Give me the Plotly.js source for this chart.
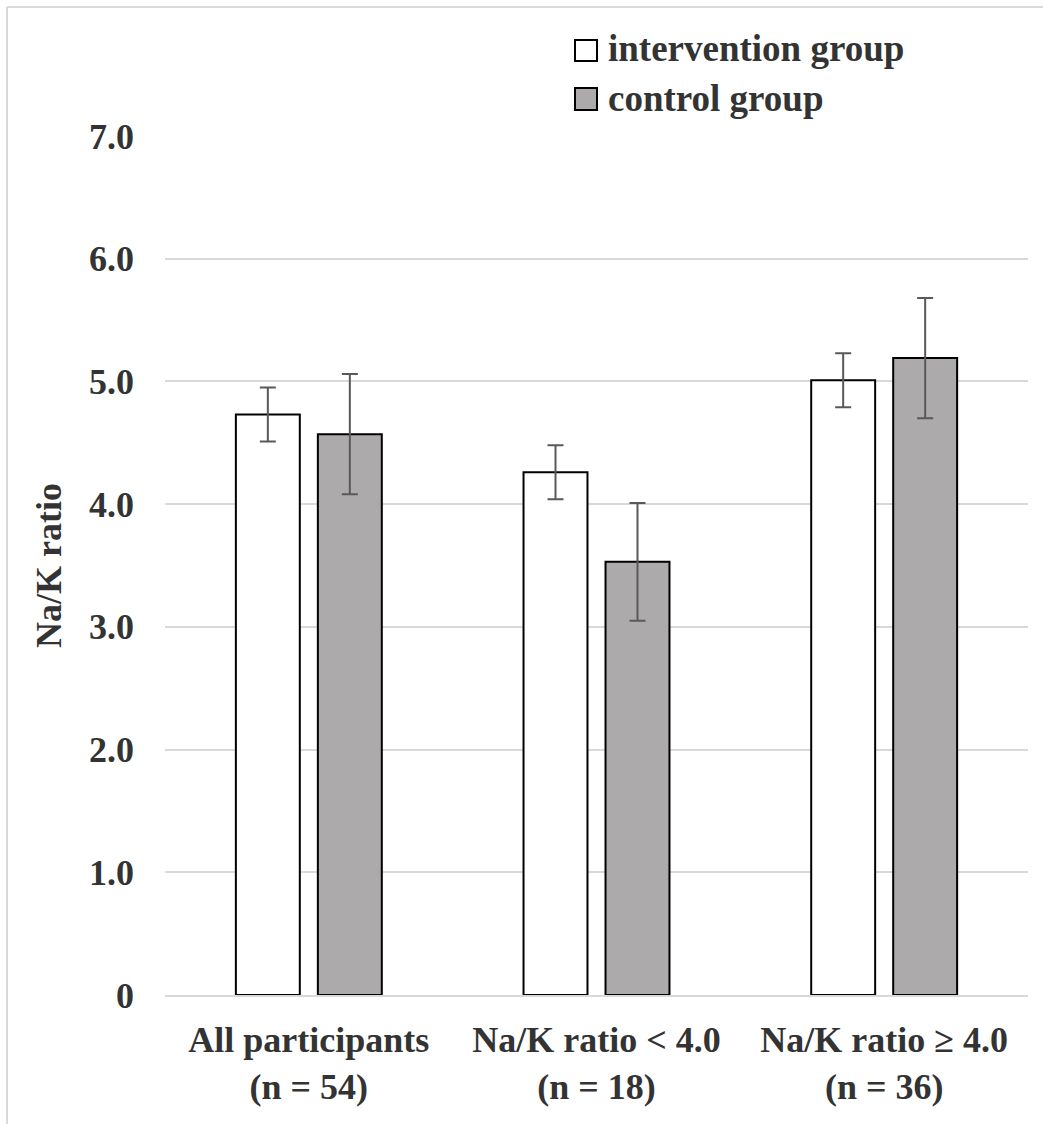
<!DOCTYPE html>
<html>
<head>
<meta charset="utf-8">
<script src="https://cdn.plot.ly/plotly-3.0.1.min.js"></script>
<style>
html,body{margin:0;padding:0;background:#fff;}
#chart{width:1043px;height:1124px;}
</style>
</head>
<body>
<div id="chart"></div>
<script>
const categories = ["All participants<br>(n = 54)", "Na/K ratio < 4.0<br>(n = 18)", "Na/K ratio ≥ 4.0<br>(n = 36)"];
const seriesNames = ["intervention group", "control group"];
const interventionValues = [4.73, 4.26, 5.01];
const interventionErrors = [0.22, 0.22, 0.22];
const controlValues = [4.57, 3.53, 5.19];
const controlErrors = [0.49, 0.48, 0.49];
const yTickValues = [0, 1, 2, 3, 4, 5, 6, 7];
const yTickLabels = ["0", "1.0", "2.0", "3.0", "4.0", "5.0", "6.0", "7.0"];

const FONT = "'Liberation Serif', 'Times New Roman', 'DejaVu Serif', serif";
const TXT = "#333333";
const GRID = "#d9d9d9";

const errStyle = {type: "data", visible: true, color: "#595959", thickness: 2, width: 8};

const traces = [
  {
    type: "bar", name: seriesNames[0], x: categories, y: interventionValues,
    marker: {color: "#ffffff", line: {color: "#000000", width: 2}},
    error_y: Object.assign({array: interventionErrors}, errStyle),
    showlegend: false
  },
  {
    type: "bar", name: seriesNames[1], x: categories, y: controlValues,
    marker: {color: "#acaaaa", line: {color: "#000000", width: 2}},
    error_y: Object.assign({array: controlErrors}, errStyle),
    showlegend: false
  }
];

const L = 165, R = 15, T = 136, B = 129, W = 1043, H = 1124;
const pw = W - L - R, ph = H - T - B;
const px = v => (v - L) / pw;
const py = v => (H - B - v) / ph;

const shapes = [
  {type: "line", xref: "paper", yref: "paper", x0: px(7), x1: px(1043), y0: py(7), y1: py(7), line: {color: GRID, width: 2}},
  {type: "line", xref: "paper", yref: "paper", x0: px(7), x1: px(7), y0: py(7), y1: py(1124), line: {color: GRID, width: 2}},
  {type: "rect", xref: "paper", yref: "paper", x0: px(575), x1: px(597), y0: py(61), y1: py(40), fillcolor: "#ffffff", line: {color: "#000000", width: 2}},
  {type: "rect", xref: "paper", yref: "paper", x0: px(575), x1: px(597), y0: py(110), y1: py(88), fillcolor: "#acaaaa", line: {color: "#000000", width: 2}}
];

const annotations = [
  {xref: "paper", yref: "paper", x: px(606), y: py(48), xanchor: "left", yanchor: "middle", showarrow: false,
   text: "<b>" + seriesNames[0] + "</b>", font: {family: FONT, size: 37, color: TXT}},
  {xref: "paper", yref: "paper", x: px(606), y: py(98), xanchor: "left", yanchor: "middle", showarrow: false,
   text: "<b>" + seriesNames[1] + "</b>", font: {family: FONT, size: 37, color: TXT}}
];

const layout = {
  width: W, height: H,
  margin: {l: L, r: R, t: T, b: B, pad: 0},
  paper_bgcolor: "#ffffff", plot_bgcolor: "#ffffff",
  font: {family: FONT, size: 36, color: TXT, weight: "bold"},
  barmode: "group", bargap: 0.43, bargroupgap: 0.22,
  showlegend: false,
  xaxis: {
    type: "category",
    showgrid: false, zeroline: false, showline: true, linecolor: GRID, linewidth: 2,
    ticks: "", ticklabelstandoff: 12,
    tickfont: {family: FONT, size: 36, color: TXT, weight: "bold"},
    automargin: false, fixedrange: true
  },
  yaxis: {
    range: [0, 7],
    tickvals: yTickValues, ticktext: yTickLabels,
    showgrid: true, gridcolor: GRID, gridwidth: 2,
    zeroline: false, showline: false, ticks: "", ticklabelstandoff: 30,
    tickfont: {family: FONT, size: 36, color: TXT, weight: "bold"},
    title: {text: "<b>Na/K ratio</b>", standoff: 16, font: {family: FONT, size: 36, color: TXT}},
    automargin: false, fixedrange: true
  },
  shapes: shapes,
  annotations: annotations
};

Plotly.newPlot("chart", traces, layout, {staticPlot: true, displayModeBar: false});
</script>
</body>
</html>
